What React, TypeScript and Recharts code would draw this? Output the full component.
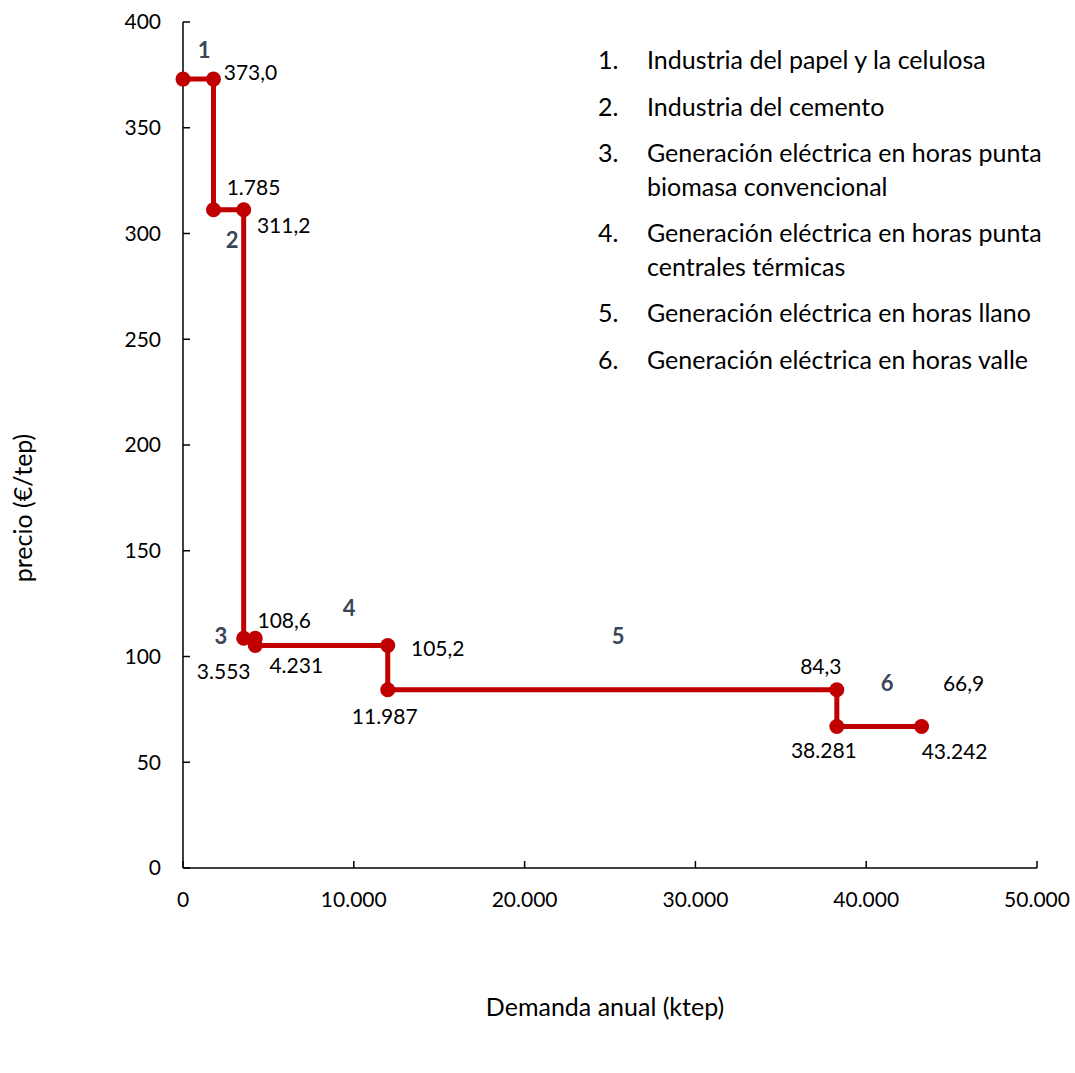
import React from 'react';
import { ComposedChart, Line, XAxis, YAxis, Scatter, LabelList } from 'recharts';

// Step curve: cumulative annual demand (ktep) vs price (€/tep)
const demandX = [0, 1785, 1785, 3553, 3553, 4231, 4231, 11987, 11987, 38281, 38281, 43242];
const priceY = [373.0, 373.0, 311.2, 311.2, 108.6, 108.6, 105.2, 105.2, 84.3, 84.3, 66.9, 66.9];

// Which values are labelled at each point ('x' = demand, 'y' = price)
const pointLabelKinds: string[][] = [[], ['y'], ['x'], ['y'], ['x'], ['y'], ['x'], ['y'], ['x'], ['y'], ['x'], ['x', 'y']];

// Segment number labels (chart coordinates)
const segmentNames = ['1', '2', '3', '4', '5', '6'];
const segmentX = [1230, 2870, 2225, 9720, 25470, 41220];
const segmentY = [387, 297, 110, 123, 110, 87.5];

const xTicks = [0, 10000, 20000, 30000, 40000, 50000];
const yTicks = [0, 50, 100, 150, 200, 250, 300, 350, 400];

const legendNumbers = ['1.', '2.', '3.', '4.', '5.', '6.'];
const legendTexts = [
  ['Industria del papel y la celulosa'],
  ['Industria del cemento'],
  ['Generación eléctrica en horas punta', 'biomasa convencional'],
  ['Generación eléctrica en horas punta', 'centrales térmicas'],
  ['Generación eléctrica en horas llano'],
  ['Generación eléctrica en horas valle'],
];

// label offsets (pixels) relative to each point, styling only
const labelOffsets: number[][][] = [
  [],
  [[37, -8]],
  [[40, -23]],
  [[40, 15]],
  [[-20, 32]],
  [[29, -19]],
  [[41, 19]],
  [[50, 2]],
  [[-3, 26]],
  [[-16, -24]],
  [[-13, 23]],
  [[33, 24], [42, -44]],
];

const points = demandX.map((x, i) => ({ x, y: priceY[i] }));
const segments = segmentNames.map((name, i) => ({ x: segmentX[i], y: segmentY[i], name }));

const fmtThousands = (v: number) => {
  const s = Math.round(v).toString();
  return s.replace(/\B(?=(\d{3})+(?!\d))/g, '.');
};
const fmtDecimal = (v: number) => v.toFixed(1).replace('.', ',');

const FONT = 'Lato, "Open Sans", sans-serif';
const FS = 21;
const FS_BIG = 25;
const RED = '#C00000';
const SLATE = '#3A4658';

const PointLabels = (props: any) => {
  const { x, y, index } = props;
  const kinds = pointLabelKinds[index] || [];
  return (
    <g>
      {kinds.map((k, j) => {
        const [dx, dy] = labelOffsets[index][j];
        const text = k === 'x' ? fmtThousands(demandX[index]) : fmtDecimal(priceY[index]);
        return (
          <text key={j} x={x + dx} y={y + dy} textAnchor="middle" dominantBaseline="central"
            fontFamily={FONT} fontSize={FS} fill="#000">{text}</text>
        );
      })}
    </g>
  );
};

const SegmentShape = (props: any) => {
  const { cx, cy, payload } = props;
  return (
    <text x={cx} y={cy} textAnchor="middle" dominantBaseline="central" fontFamily={FONT}
      fontSize={22} fontWeight="bold" fill={SLATE}>{payload.name}</text>
  );
};

const Dot = (props: any) => {
  const { cx, cy, index } = props;
  return <circle key={index} cx={cx} cy={cy} r={7.5} fill={RED} stroke="none" />;
};

export default function App() {
  return (
    <div style={{ position: 'absolute', left: 0, top: 0, width: 1075, height: 1073, background: '#fff', fontFamily: FONT }}>
      <ComposedChart width={1075} height={1073} margin={{ top: 22, right: 38, left: 0, bottom: 0 }}>
        <XAxis
          dataKey="x"
          type="number"
          domain={[0, 50000]}
          ticks={xTicks}
          tickFormatter={fmtThousands}
          height={205}
          tickSize={-7}
          tickMargin={31}
          axisLine={{ stroke: '#000', strokeWidth: 1.5 }}
          tickLine={{ stroke: '#000', strokeWidth: 1.5 }}
          tick={{ fontFamily: FONT, fontSize: FS, fill: '#000' }}
          allowDuplicatedCategory={false}
          label={{
            content: (p: any) => {
              const vb = p.viewBox;
              return (
                <text x={vb.x + vb.width / 2 - 5} y={1006} textAnchor="middle" dominantBaseline="central"
                  fontFamily={FONT} fontSize={FS_BIG} fill="#000">Demanda anual (ktep)</text>
              );
            },
          }}
        />
        <YAxis
          dataKey="y"
          type="number"
          domain={[0, 400]}
          ticks={yTicks}
          width={183}
          tickSize={-7}
          tickMargin={29}
          axisLine={{ stroke: '#000', strokeWidth: 1.5 }}
          tickLine={{ stroke: '#000', strokeWidth: 1.5 }}
          tick={{ fontFamily: FONT, fontSize: FS, fill: '#000' }}
          label={{
            content: () => (
              <text x={22} y={508} transform="rotate(-90 22 508)" textAnchor="middle" dominantBaseline="central"
                fontFamily={FONT} fontSize={FS_BIG} fill="#000">precio (€/tep)</text>
            ),
          }}
        />
        <Line
          data={points}
          dataKey="y"
          type="linear"
          stroke={RED}
          strokeWidth={5}
          dot={<Dot />}
          activeDot={false}
          isAnimationActive={false}
        >
          <LabelList dataKey="y" content={<PointLabels />} />
        </Line>
        <Scatter data={segments} dataKey="y" shape={<SegmentShape />} isAnimationActive={false} />
      </ComposedChart>
      <div style={{ position: 'absolute', left: 598, top: 43, fontFamily: FONT, fontSize: FS_BIG, color: '#000' }}>
        {legendTexts.map((lines, i) => (
          <div key={i} style={{ display: 'flex', marginBottom: 13 }}>
            <div style={{ width: 49, lineHeight: '33.5px', height: 33.5 }}>{legendNumbers[i]}</div>
            <div>
              {lines.map((l, j) => (
                <div key={j} style={{ lineHeight: '33.5px', height: 33.5, whiteSpace: 'nowrap' }}>{l}</div>
              ))}
            </div>
          </div>
        ))}
      </div>
    </div>
  );
}
